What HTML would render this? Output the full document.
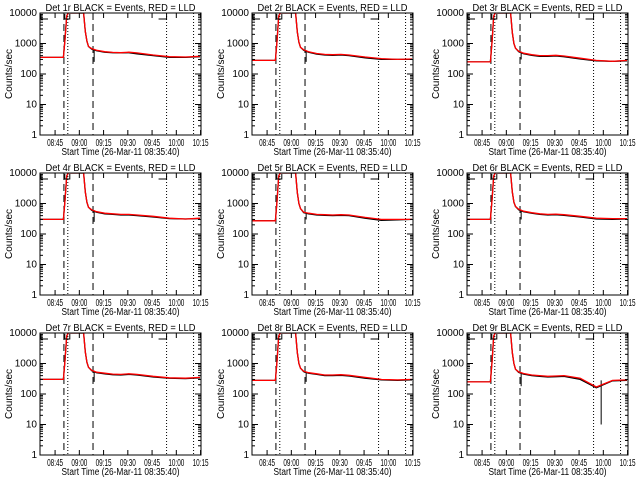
<!DOCTYPE html>
<html><head><meta charset="utf-8"><style>
html,body{margin:0;padding:0;background:#fff;width:640px;height:480px;overflow:hidden}
svg{display:block}
text{font-family:"Liberation Sans",sans-serif;font-size:10px;fill:#000}
</style></head><body>
<svg id="fig" width="640" height="480" viewBox="0 0 640 480"></svg>
<script>
const times=[0,14.5,15.5,16.5,17.5,27,28,29,30,32,35,40,45,50,55,60,70,80,90,99];
const red1=[350,350,1500,8000,15000,15000,2500,1200,800,680,600,540,510,500,520,490,420,370,360,380];
const blk1=[350,350,1500,8000,15000,15000,2500,1200,800,650,580,520,500,490,500,460,400,350,350,370];
const red2=[280,280,1300,8000,15000,15000,2400,1100,750,620,540,470,440,430,440,420,360,320,300,310];
const blk2=[280,280,1300,8000,15000,15000,2400,1100,750,600,520,450,420,410,420,400,340,300,300,300];
const red3=[250,250,1200,8000,15000,15000,2300,1000,700,560,480,430,400,400,410,390,330,280,260,280];
const blk3=[250,250,1200,8000,15000,15000,2300,1000,700,540,460,410,380,380,390,370,310,270,260,270];
const red4=[300,300,1400,8000,15000,15000,2400,1100,750,620,540,480,460,440,440,420,380,330,310,330];
const blk4=[300,300,1400,8000,15000,15000,2400,1100,750,600,520,460,440,420,420,400,360,320,310,320];
const red5=[270,270,1300,8000,15000,15000,2300,1000,680,520,480,440,430,420,430,420,350,300,300,300];
const blk5=[270,270,1300,8000,15000,15000,2300,1000,680,500,460,420,410,400,410,400,330,280,290,300];
const red6=[300,300,1400,8000,15000,15000,2400,1100,800,650,560,500,460,440,450,430,380,330,320,320];
const blk6=[300,300,1400,8000,15000,15000,2400,1100,800,620,540,480,440,420,430,410,360,310,300,310];
const red7=[300,300,1400,8000,15000,15000,2400,1100,750,600,520,480,450,440,460,440,380,340,330,350];
const blk7=[300,300,1400,8000,15000,15000,2400,1100,750,580,500,460,430,420,440,420,360,330,320,340];
const red8=[280,280,1300,8000,15000,15000,2300,1000,700,560,500,460,420,420,430,410,350,300,290,300];
const blk8=[280,280,1300,8000,15000,15000,2300,1000,700,540,480,440,400,400,410,390,330,290,280,290];
const red9=[250,250,1200,8000,15000,15000,2300,1000,650,530,470,420,400,380,390,400,330,170,280,290];
const blk9=[250,250,1200,8000,15000,15000,2300,1000,650,510,450,400,380,360,370,380,300,160,270,280];
const reds=[red1,red2,red3,red4,red5,red6,red7,red8,red9];
const blks=[blk1,blk2,blk3,blk4,blk5,blk6,blk7,blk8,blk9];
const spikeTimes=[33.5,33.5,33.5,33.5,33.5,33.5,33.5,33.5,33.5];
const spikeVals=[250,250,300,250,300,300,250,250,180];
const spike2Times=[null,null,null,null,null,null,null,null,83];
const spike2Vals=[null,null,null,null,null,null,null,null,10];
const tickLabels=["08:45","09:00","09:15","09:30","09:45","10:00","10:15"];
const tickTimes=[9.33,24.33,39.33,54.33,69.33,84.33,99.33];
const yTicks=[1,10,100,1000,10000];
const yLabels=["1","10","100","1000","10000"];
const dashedTimes=[14.8,32.8];
const dottedTimes=[17.2,78.3,95];
const lefts=[40,252,467], tops=[13,173,333], W=161, H=122, TMAX=99.6;
const NS="http://www.w3.org/2000/svg";
const svg=document.getElementById('fig');
function mk(tag,attrs,parent){const e=document.createElementNS(NS,tag);for(const k in attrs)e.setAttribute(k,attrs[k]);(parent||svg).appendChild(e);return e;}
for(let p=0;p<9;p++){
  const L=lefts[p%3], T=tops[Math.floor(p/3)];
  const xs=t=>L+W*t/TMAX;
  const ys=v=>{const c=Math.min(Math.max(v,1),10000);return T+H-H*Math.log10(c)/4;};
  const g=mk('g',{});
  
  
  const clipId='c'+p;
  const cp=mk('clipPath',{id:clipId},g);mk('rect',{x:L,y:T,width:W,height:H},cp);
  dashedTimes.forEach(t=>{const l=mk('line',{x1:xs(t),x2:xs(t),y1:T,y2:T+H,stroke:'#000','stroke-width':1,'stroke-dasharray':'7,4'},g);
    });
  dottedTimes.forEach(t=>{const l=mk('line',{x1:xs(t),x2:xs(t),y1:T,y2:T+H,stroke:'#000','stroke-width':1,'stroke-dasharray':'1,2'},g);
    });
  const cg=mk('g',{'clip-path':'url(#'+clipId+')'},g);
  const pts=a=>a.map((v,i)=>xs(times[i]).toFixed(1)+','+ys(v).toFixed(1)).join(' ');
  const bl=mk('polyline',{points:pts(blks[p]),fill:'none',stroke:'#000','stroke-width':1.3},cg);
  
  const sp=mk('line',{x1:xs(spikeTimes[p]),x2:xs(spikeTimes[p]),y1:ys(blks[p][9]),y2:ys(spikeVals[p]),stroke:'#000','stroke-width':1},cg);
  
  if(spike2Times[p]!==null){const s2=mk('line',{x1:xs(spike2Times[p]),x2:xs(spike2Times[p]),y1:ys(280),y2:ys(spike2Vals[p]),stroke:'#000','stroke-width':1},cg);
    }
  const rl=mk('polyline',{points:pts(reds[p]),fill:'none',stroke:'#f00','stroke-width':1.3},cg);
  
  mk('path',{d:`M${L+1} ${T+6}V${T+1}M${L+1} ${T+6}H${L+8}M${xs(78.3)-8} ${T+6}H${xs(78.3)}V${T+1}M${xs(17.2)-3} ${T+1}v5h5v-5`,stroke:'#000',fill:'none','stroke-width':1},g);
  const box=mk('rect',{x:L,y:T,width:W,height:H,fill:'none',stroke:'#000','stroke-width':1},g);
  
  tickTimes.forEach((t,i)=>{const x=xs(t);
    mk('line',{x1:x,x2:x,y1:T+H,y2:T+H-5,stroke:'#000'},g);mk('line',{x1:x,x2:x,y1:T,y2:T+5,stroke:'#000'},g);
    const tx=mk('text',{x:x-8,y:T+H+11,'font-size':8,textLength:16,lengthAdjust:'spacingAndGlyphs'},g);tx.textContent=tickLabels[i];
    });
  yTicks.forEach((v,i)=>{const y=ys(v);
    mk('line',{x1:L,x2:L+6,y1:y,y2:y,stroke:'#000'},g);mk('line',{x1:L+W,x2:L+W-6,y1:y,y2:y,stroke:'#000'},g);
    const tx=mk('text',{x:L-3,y:y+3,'text-anchor':'end','font-size':8},g);tx.textContent=yLabels[i];
    
    if(i<4)for(let m=2;m<10;m++){const ym=ys(v*m);mk('line',{x1:L,x2:L+3,y1:ym,y2:ym,stroke:'#000'},g);mk('line',{x1:L+W,x2:L+W-3,y1:ym,y2:ym,stroke:'#000'},g);}
  });
  const ti=mk('text',{x:L+W/2,y:T-2,'text-anchor':'middle','font-size':10,textLength:150,lengthAdjust:'spacingAndGlyphs'},g);
  ti.textContent='Det '+(p+1)+'r BLACK = Events, RED = LLD';
  
  const xt=mk('text',{x:L+W/2,y:T+H+20,'text-anchor':'middle','font-size':9,textLength:118,lengthAdjust:'spacingAndGlyphs'},g);
  xt.textContent='Start Time (26-Mar-11 08:35:40)';
  
  const yt=mk('text',{x:0,y:0,'text-anchor':'middle','font-size':8,transform:`translate(${L-28},${T+H/2}) rotate(-90)`},g);
  yt.textContent='Counts/sec';
  
}
</script>
</body></html>
